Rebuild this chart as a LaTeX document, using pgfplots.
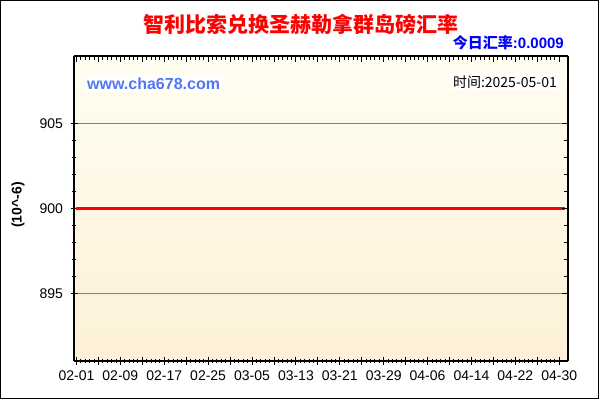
\documentclass[border=0pt]{standalone}
\usepackage{pgfplots}
\pgfplotsset{compat=1.18}
\usepackage{fontspec}
\setmainfont{Liberation Sans}
\newfontfamily\cjk{Noto Sans CJK SC}

\definecolor{titlered}{RGB}{255,0,0}
\definecolor{rateblue}{RGB}{0,0,255}
\definecolor{webblue}{RGB}{80,120,240}
\definecolor{gridgold}{RGB}{176,124,24}
\definecolor{bgtop}{RGB}{255,254,242}
\definecolor{bgbot}{RGB}{253,240,215}

\begin{document}
\begin{tikzpicture}
% whole picture in px (1px = 1bp), origin bottom left
\fill[white] (0,0) rectangle (600bp,400bp);
\path[use as bounding box] (0,0) rectangle (600bp,400bp);
\draw[black,line width=1.2bp] (0.6bp,1.6bp) rectangle (598.4bp,399.4bp);

\begin{axis}[
  at={(74bp,39bp)}, anchor=south west,
  scale only axis, width=494bp, height=305bp,
  xmin=-0.45, xmax=89.6,
  ymin=891, ymax=909,
  axis x line*=bottom, axis y line*=left,
  axis line style={black,line width=1.2bp},
  axis background/.style={top color=bgtop, bottom color=bgbot},
  xtick={0,4,...,88},
  xticklabels={02-01,,02-09,,02-17,,02-25,,03-05,,03-13,,03-21,,03-29,,04-06,,04-14,,04-22,,04-30},
  minor x tick num=4,
  ytick={895,900,905},
  minor y tick num=4,
  tick align=center,
  major tick length=7bp, minor tick length=4.5bp,
  tick style={black,line width=0.9bp},
  ymajorgrids,
  grid style={gridgold,line width=1bp},
  major grid style={gridgold,line width=1bp},
  tick label style={font=\fontsize{14bp}{16bp}\selectfont},
  xticklabel style={yshift=-3bp},
  yticklabel style={xshift=-4bp},
  /pgf/number format/assume math mode=true,
  clip=false,
]
\addplot[titlered,line width=3bp,mark=none] coordinates {
(0,900) (1,900) (2,900) (3,900) (4,900) (5,900) (6,900) (7,900) (8,900) (9,900)
(10,900) (11,900) (12,900) (13,900) (14,900) (15,900) (16,900) (17,900) (18,900) (19,900)
(20,900) (21,900) (22,900) (23,900) (24,900) (25,900) (26,900) (27,900) (28,900) (29,900)
(30,900) (31,900) (32,900) (33,900) (34,900) (35,900) (36,900) (37,900) (38,900) (39,900)
(40,900) (41,900) (42,900) (43,900) (44,900) (45,900) (46,900) (47,900) (48,900) (49,900)
(50,900) (51,900) (52,900) (53,900) (54,900) (55,900) (56,900) (57,900) (58,900) (59,900)
(60,900) (61,900) (62,900) (63,900) (64,900) (65,900) (66,900) (67,900) (68,900) (69,900)
(70,900) (71,900) (72,900) (73,900) (74,900) (75,900) (76,900) (77,900) (78,900) (79,900)
(80,900) (81,900) (82,900) (83,900) (84,900) (85,900) (86,900) (87,900) (88,900) (89,900)
};
\end{axis}

% mirrored inward ticks on top and right
\begin{axis}[
  at={(74bp,39bp)}, anchor=south west,
  scale only axis, width=494bp, height=305bp,
  xmin=-0.45, xmax=89.6,
  ymin=891, ymax=909,
  axis x line*=top, axis y line*=right,
  axis line style={black,line width=1.2bp},
  xtick={0,4,...,88}, xticklabels={},
  minor x tick num=4,
  ytick={895,900,905}, yticklabels={},
  minor y tick num=4,
  tick align=inside,
  major tick length=6bp, minor tick length=4bp,
  tick style={black,line width=0.9bp},
]
\end{axis}

\node[titlered,font=\cjk\bfseries\fontsize{21bp}{24bp}\selectfont] at (301bp,376bp) {智利比索兑换圣赫勒拿群岛磅汇率};
\node[rateblue,anchor=east,inner sep=0pt,font=\bfseries\fontsize{15bp}{17bp}\selectfont] at (564bp,357bp) {{\cjk 今日汇率}:0.0009};
\node[webblue,fill=white,anchor=west,inner sep=2bp,font=\bfseries\fontsize{16bp}{18bp}\selectfont] at (85bp,316bp) {www.cha678.com};
\node[black,fill=white,anchor=east,inner sep=2bp,font=\cjk\fontsize{14bp}{16bp}\selectfont] at (559bp,318bp) {时间:2025-05-01};
\node[black,rotate=90,font=\bfseries\fontsize{14bp}{16bp}\selectfont] at (18bp,195bp) {(10\textasciicircum -6)};
\end{tikzpicture}
\end{document}
